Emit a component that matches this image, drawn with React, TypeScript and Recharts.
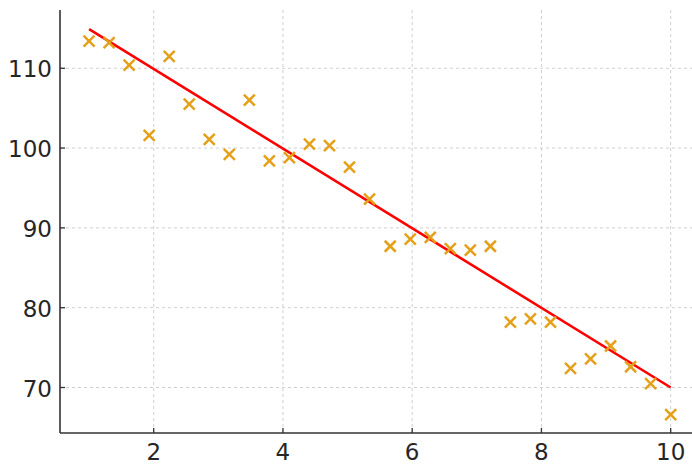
import React from "react";
import { ComposedChart, Scatter, Line, XAxis, YAxis, CartesianGrid } from "recharts";

const xValues = [
  1.0, 1.31, 1.62, 1.93, 2.24, 2.55, 2.86, 3.17, 3.48, 3.79,
  4.1, 4.41, 4.72, 5.03, 5.34, 5.66, 5.97, 6.28, 6.59, 6.9,
  7.21, 7.52, 7.83, 8.14, 8.45, 8.76, 9.07, 9.38, 9.69, 10.0,
];
const yValues = [
  113.4, 113.2, 110.4, 101.6, 111.5, 105.5, 101.1, 99.2, 106.0, 98.4,
  98.8, 100.5, 100.3, 97.6, 93.6, 87.7, 88.6, 88.8, 87.4, 87.2,
  87.7, 78.2, 78.6, 78.2, 72.4, 73.6, 75.2, 72.6, 70.5, 66.6,
];
const fitX = [1, 10];
const fitY = [114.9, 70.0];
const xTicks = [2, 4, 6, 8, 10];
const yTicks = [70, 80, 90, 100, 110];

const points = xValues.map((x, i) => ({ x, y: yValues[i] }));
const fitLine = fitX.map((x, i) => ({ x, fit: fitY[i] }));

const FONT = "'DejaVu Sans', sans-serif";
const TEXT = "#262626";
const MARKER = "#E5A01A";
const TICK_MARGIN = 8;
const TICK_LEN = 5;
const FS = 23;

const XMarker = (props: any) => {
  const { cx, cy } = props;
  if (cx == null || cy == null) return null;
  const s = 5.5;
  return (
    <g stroke={MARKER} strokeWidth={2.5} strokeLinecap="butt">
      <line x1={cx - s} y1={cy - s} x2={cx + s} y2={cy + s} />
      <line x1={cx - s} y1={cy + s} x2={cx + s} y2={cy - s} />
    </g>
  );
};

const BottomTick = (props: any) => {
  const { x, y, payload } = props;
  const axisY = y - TICK_MARGIN;
  return (
    <g>
      <line x1={x} y1={axisY} x2={x} y2={axisY - TICK_LEN} stroke="#333" strokeWidth={1.3} />
      <text x={x} y={axisY + 27} textAnchor="middle" fontSize={FS} fontFamily={FONT} fill={TEXT}>
        {payload.value}
      </text>
    </g>
  );
};

const LeftTick = (props: any) => {
  const { x, y, payload } = props;
  const axisX = x + TICK_MARGIN;
  return (
    <g>
      <line x1={axisX} y1={y} x2={axisX + TICK_LEN} y2={y} stroke="#333" strokeWidth={1.3} />
      <text x={axisX - 8} y={y + 9} textAnchor="end" fontSize={FS} fontFamily={FONT} fill={TEXT}>
        {payload.value}
      </text>
    </g>
  );
};

export default function App() {
  return (
    <div style={{ position: "absolute", left: 0, top: 0, width: 692, height: 467, background: "#fff" }}>
      <ComposedChart width={692} height={467} margin={{ top: 10, right: 0, bottom: 0, left: 0 }}>
        <CartesianGrid
          stroke="#cfcfcf"
          strokeDasharray="3 3"
          strokeWidth={1}
          horizontalValues={yTicks}
          verticalValues={xTicks}
        />
        <XAxis
          type="number"
          dataKey="x"
          domain={[0.55, 10.33]}
          ticks={xTicks}
          allowDataOverflow
          height={34}
          tickSize={0}
          tickMargin={TICK_MARGIN}
          tickLine={false}
          tick={<BottomTick />}
          axisLine={{ stroke: "#333", strokeWidth: 1.6 }}
        />
        <YAxis
          type="number"
          domain={[64.3, 117.3]}
          ticks={yTicks}
          allowDataOverflow
          width={60}
          tickSize={0}
          tickMargin={TICK_MARGIN}
          tickLine={false}
          tick={<LeftTick />}
          axisLine={{ stroke: "#333", strokeWidth: 1.6 }}
        />
        <Scatter data={points} dataKey="y" shape={<XMarker />} isAnimationActive={false} />
        <Line
          data={fitLine}
          dataKey="fit"
          stroke="#FF0000"
          strokeWidth={2.6}
          dot={false}
          isAnimationActive={false}
          type="linear"
        />
      </ComposedChart>
    </div>
  );
}
